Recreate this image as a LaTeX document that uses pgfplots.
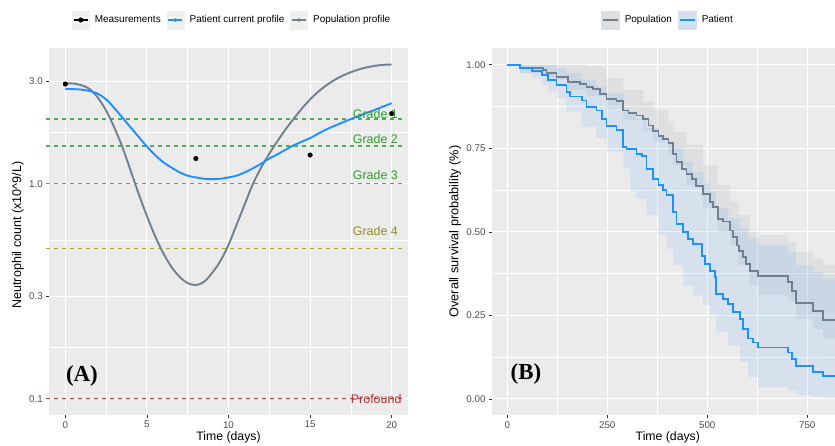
\documentclass[border=0pt]{standalone}
\usepackage{fontspec}
\setmainfont{Liberation Sans}
\newfontfamily\serifb{Liberation Serif}
\usepackage{pgfplots}
\pgfplotsset{compat=1.18}

\definecolor{panelbg}{HTML}{EBEBEB}
\definecolor{ticklab}{HTML}{4D4D4D}
\definecolor{tickcol}{HTML}{333333}
\definecolor{dblue}{HTML}{1E90FF}
\definecolor{sgray}{HTML}{708090}
\definecolor{keybg}{HTML}{F0F0F0}
\definecolor{thrgreen}{rgb}{0.33,0.67,0.33}
\definecolor{thrgreentext}{rgb}{0.18,0.62,0.18}
\definecolor{throlive}{HTML}{A5A535}
\definecolor{throlivetext}{HTML}{8F8F22}
\definecolor{thrred}{HTML}{C04040}
\definecolor{thrredtext}{HTML}{B8312F}
\definecolor{popkey}{HTML}{DEDFE1}
\definecolor{patkey}{HTML}{D5E0EE}

\pgfplotsset{
  gg/.style={
    scale only axis, anchor=south west,
    axis background/.style={fill=panelbg},
    axis x line*=bottom, axis y line*=left,
    axis line style={draw=none},
    grid=both,
    major grid style={draw=white, line width=1.07bp},
    minor grid style={draw=white, line width=0.53bp},
    major tick length=2.75bp, minor tick length=0pt,
    tick align=outside,
    tick style={draw=tickcol, line width=0.53bp},
    tick label style={font=\fontsize{9.8}{11}\selectfont, text=ticklab},
    /pgf/number format/assume math mode=true,
    legend style={draw=none, fill=none, font=\fontsize{10}{11}\selectfont,
      legend columns=-1, anchor=center,
      /tikz/every odd column/.append style={column sep=3.5bp},
      /tikz/every even column/.append style={column sep=4bp}},
    legend cell align=left,
  }
}

\begin{document}
\begin{tikzpicture}
\useasboundingbox (0,0) rectangle (835bp,446bp);

% ---------------- Panel A ----------------
\begin{axis}[gg, at={(49bp,31bp)}, width=359bp, height=367bp,
  ymode=log, xmin=-1, xmax=21, ymin=0.084, ymax=4.28,
  xtick={0,5,10,15,20}, xticklabels={0,5,10,15,20},
  minor xtick={2.5,7.5,12.5,17.5},
  ytick={0.1,0.3,1,3}, yticklabels={0.1,0.3,1.0,3.0},
  minor ytick={0.17321,0.54772,1.73205},
  xlabel={Time (days)},
  ylabel={Neutrophil count (x10\textasciicircum 9/L)},
  every axis x label/.style={at={(axis description cs:0.5,-0.06)}, anchor=center,
    font=\fontsize{12.3}{13}\selectfont},
  every axis y label/.style={at={(axis description cs:-0.0864,0.49)}, anchor=center, rotate=90,
    font=\fontsize{12.6}{13}\selectfont},
  clip=false,
  legend style={at={(axis description cs:0.51,1.0763)}},
]
\addlegendimage{legend image code/.code={
  \fill[keybg] (0bp,-9bp) rectangle (17bp,9bp);
  \draw[black, line width=1.6bp] (1.5bp,0bp) -- (15.5bp,0bp);
  \fill[black] (8.5bp,0bp) circle (2.3bp);}}
\addlegendentry{Measurements}
\addlegendimage{legend image code/.code={
  \fill[keybg] (0bp,-9bp) rectangle (17bp,9bp);
  \draw[dblue, line width=1.6bp] (1.5bp,0bp) -- (15.5bp,0bp);
  \fill[dblue] (8.5bp,0bp) circle (1.6bp);}}
\addlegendentry{Patient current profile}
\addlegendimage{legend image code/.code={
  \fill[keybg] (0bp,-9bp) rectangle (17bp,9bp);
  \draw[sgray, line width=1.6bp] (1.5bp,0bp) -- (15.5bp,0bp);
  \fill[sgray] (8.5bp,0bp) circle (1.6bp);}}
\addlegendentry{Population profile}

% grade thresholds
\addplot[color=throlive, line width=1.4bp, dash pattern=on 4bp off 4bp, forget plot] coordinates {(-1.16,0.5) (20.85,0.5)};
\addplot[color=thrred, line width=1.4bp, dash pattern=on 4bp off 4bp, forget plot] coordinates {(-1.16,0.1) (20.85,0.1)};
\addplot[color=thrgreen, line width=1.4bp, dash pattern=on 4bp off 4bp, forget plot] coordinates {(-1.16,2) (20.85,2)};
\addplot[color=thrgreen, line width=1.4bp, dash pattern=on 4bp off 4bp, forget plot] coordinates {(-1.16,1.5) (20.85,1.5)};
\addplot[color=thrgreen, line width=1.4bp, dash pattern=on 4bp off 4bp, forget plot] coordinates {(-1.16,1) (20.85,1)};

% population profile
\addplot[color=sgray, line width=1.9bp, smooth, forget plot] coordinates {
(0,2.931) (0.5,2.924) (1,2.871) (1.5,2.754) (2,2.512) (2.5,2.188) (3,1.828) (3.5,1.479)
(4,1.153) (4.5,0.895) (5,0.708) (5.5,0.571) (6,0.476) (6.5,0.411) (7,0.369) (7.5,0.345)
(8,0.338) (8.5,0.350) (9,0.385) (9.5,0.437) (10,0.519) (10.5,0.646) (11,0.804) (11.5,1.0)
(12,1.189) (12.5,1.380) (13,1.578) (13.5,1.791) (14,2.009) (14.5,2.239) (15,2.466) (15.5,2.679)
(16,2.871) (16.5,3.041) (17,3.184) (17.5,3.304) (18,3.404) (18.5,3.483) (19,3.540) (19.5,3.573) (20,3.589)};
% patient profile
\addplot[color=dblue, line width=1.9bp, smooth, forget plot] coordinates {
(0,2.76) (0.5,2.755) (1,2.74) (1.5,2.70) (2,2.62) (2.5,2.47) (3,2.25) (3.5,2.03)
(4,1.83) (4.5,1.65) (5,1.49) (5.5,1.36) (6,1.26) (6.5,1.19) (7,1.13) (7.5,1.09)
(8,1.07) (8.5,1.055) (9,1.05) (9.5,1.055) (10,1.07) (10.5,1.09) (11,1.13) (11.5,1.18)
(12,1.24) (12.5,1.31) (13,1.37) (13.5,1.44) (14,1.51) (14.5,1.57) (15,1.63) (15.5,1.71)
(16,1.79) (16.5,1.86) (17,1.93) (17.5,2.0) (18,2.07) (18.5,2.14) (19,2.21) (19.5,2.29) (20,2.37)};

% grade texts
\node[text=thrgreentext, font=\fontsize{12.5}{13}\selectfont] at (axis cs:19,2.11) {Grade 1};
\node[text=thrgreentext, font=\fontsize{12.5}{13}\selectfont] at (axis cs:19,1.61) {Grade 2};
\node[text=thrgreentext, font=\fontsize{12.5}{13}\selectfont] at (axis cs:19,1.10) {Grade 3};
\node[text=throlivetext, font=\fontsize{12.5}{13}\selectfont] at (axis cs:19,0.60) {Grade 4};
\node[text=thrredtext, font=\fontsize{12.5}{13}\selectfont] at (axis cs:19.05,0.1) {Profound};

% measurements
\addplot[only marks, mark=*, mark size=2.3bp, color=black, forget plot] coordinates {
(0,2.91) (8,1.31) (15,1.36) (20,2.12)};

\node[font=\serifb\bfseries\fontsize{23}{24}\selectfont] at (axis cs:1.02,0.128) {(A)};
\end{axis}

% ---------------- Panel B ----------------
\begin{axis}[gg, at={(491.7bp,31bp)}, width=352.3bp, height=367bp,
  xmin=-39, xmax=842, ymin=-0.048, ymax=1.05,
  xtick={0,250,500,750}, xticklabels={0,250,500,750},
  minor xtick={125,375,625},
  ytick={0,0.25,0.5,0.75,1}, yticklabels={0.00,0.25,0.50,0.75,1.00},
  minor ytick={0.125,0.375,0.625,0.875},
  xlabel={Time (days)},
  ylabel={Overall survival probability (\%)},
  every axis x label/.style={at={(axis description cs:0.5,-0.06)}, anchor=center,
    font=\fontsize{12.3}{13}\selectfont},
  every axis y label/.style={at={(axis description cs:-0.104,0.5)}, anchor=center, rotate=90,
    font=\fontsize{12.8}{13}\selectfont},
  legend style={at={(axis description cs:0.5,1.0763)}},
]
\addlegendimage{legend image code/.code={
  \fill[popkey] (0bp,-9bp) rectangle (18bp,9bp);
  \draw[sgray, line width=1.6bp] (1.5bp,0bp) -- (16.5bp,0bp);}}
\addlegendentry{Population}
\addlegendimage{legend image code/.code={
  \fill[patkey] (0bp,-9bp) rectangle (18bp,9bp);
  \draw[dblue, line width=1.6bp] (1.5bp,0bp) -- (16.5bp,0bp);}}
\addlegendentry{Patient}

% population confidence band (upper steps forward, lower steps backward)
\addplot[const plot, fill=sgray, fill opacity=0.11, draw=none, forget plot] coordinates {
(0,1) (32,1) (98,1) (152,1) (198,0.995) (248,0.96) (290,0.925) (340,0.89)
(365,0.865) (403,0.83) (415,0.80) (448,0.76) (490,0.70) (526,0.64) (557,0.59) (578,0.55)
(607,0.50) (628,0.49) (703,0.47) (723,0.44) (765,0.42) (790,0.40) (842,0.40)
(842,0.18) (790,0.21) (765,0.24) (723,0.29) (703,0.31) (628,0.34) (607,0.40) (578,0.46)
(557,0.50) (526,0.57) (490,0.64) (448,0.70) (415,0.73) (403,0.77) (365,0.80) (340,0.835)
(290,0.87) (248,0.905) (198,0.925) (152,0.955) (98,0.975) (32,1) (0,1)};

% patient confidence band
\addplot[const plot, fill=dblue, fill opacity=0.10, draw=none, forget plot] coordinates {
(0,1) (32,1) (61,1) (86,1) (102,1) (123,0.99) (148,0.975) (186,0.955) (223,0.935)
(248,0.915) (290,0.87) (307,0.86) (323,0.84) (348,0.81) (378,0.79) (398,0.77) (415,0.75)
(440,0.71) (465,0.68) (490,0.645) (507,0.62) (523,0.57) (552,0.54) (582,0.51) (602,0.48)
(627,0.46) (702,0.44) (723,0.40) (765,0.38) (790,0.36) (842,0.36)
(842,0.005) (790,0.008) (765,0.012) (723,0.025) (702,0.035) (627,0.065) (602,0.11) (582,0.16)
(552,0.20) (523,0.25) (507,0.28) (490,0.31) (465,0.34) (440,0.40) (415,0.45) (398,0.49)
(378,0.55) (348,0.60) (323,0.62) (307,0.69) (290,0.74) (248,0.78) (223,0.815) (186,0.86)
(148,0.90) (123,0.92) (102,0.94) (86,0.96) (61,0.975) (32,1) (0,1)};

% population KM
\addplot[const plot, color=sgray, line width=1.9bp, forget plot] coordinates {
(0,1) (32,0.990) (90,0.983) (98,0.975) (123,0.963) (152,0.948) (182,0.943) (198,0.933)
(215,0.928) (232,0.913) (248,0.898) (273,0.891) (290,0.863) (303,0.856) (323,0.848)
(340,0.838) (353,0.818) (365,0.803) (378,0.788) (390,0.778) (403,0.766) (415,0.733)
(423,0.709) (436,0.689) (448,0.674) (461,0.659) (473,0.638) (490,0.614) (507,0.589)
(515,0.574) (526,0.539) (540,0.531) (557,0.504) (565,0.484) (575,0.459) (580,0.444)
(590,0.424) (598,0.404) (607,0.384) (628,0.369) (703,0.349) (711,0.324) (723,0.287)
(765,0.264) (790,0.237) (842,0.237)};
% patient KM
\addplot[const plot, color=dblue, line width=1.9bp, forget plot] coordinates {
(0,1) (32,0.990) (61,0.981) (86,0.970) (102,0.953) (123,0.938) (148,0.918) (157,0.905)
(186,0.893) (198,0.873) (223,0.863) (236,0.838) (248,0.817) (273,0.805) (290,0.754)
(298,0.749) (323,0.733) (336,0.727) (348,0.689) (365,0.659) (378,0.639) (390,0.624)
(398,0.609) (415,0.559) (423,0.524) (440,0.499) (452,0.479) (465,0.464) (486,0.429)
(494,0.404) (507,0.384) (519,0.364) (523,0.314) (540,0.299) (552,0.284) (565,0.259)
(582,0.239) (590,0.209) (602,0.181) (615,0.169) (627,0.154) (702,0.139) (711,0.119)
(723,0.099) (765,0.081) (790,0.069) (842,0.069)};

\node[font=\serifb\bfseries\fontsize{23}{24}\selectfont] at (axis cs:46.75,0.074) {(B)};
\end{axis}
\end{tikzpicture}
\end{document}
